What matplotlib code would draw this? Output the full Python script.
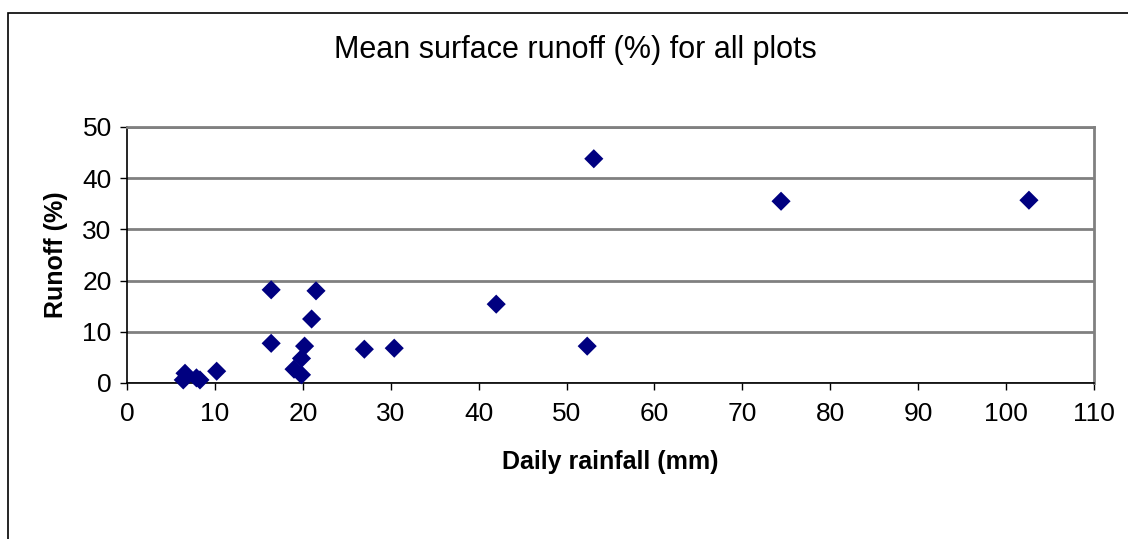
import matplotlib
matplotlib.use("Agg")
import matplotlib.pyplot as plt
from matplotlib.patches import Rectangle

# Daily rainfall (mm) and mean surface runoff (%)
rainfall = [6.6, 6.4, 7.9, 8.3, 10.2, 16.4, 16.4, 19.0, 19.85, 19.85,
            20.2, 21.0, 21.5, 27.0, 30.4, 42.0, 52.35, 53.1, 74.4, 102.6]
runoff = [1.9, 0.6, 1.0, 0.6, 2.3, 18.2, 7.75, 2.7, 1.6, 4.8,
          7.2, 12.5, 18.0, 6.6, 6.8, 15.4, 7.2, 43.8, 35.5, 35.7]

x_ticks = list(range(0, 111, 10))
y_ticks = list(range(0, 51, 10))

plt.rcParams['font.family'] = ['Liberation Sans', 'DejaVu Sans']

W, H = 1128, 539
fig = plt.figure(figsize=(W / 100, H / 100), dpi=100)

# Chart area border (cropped on the right and bottom)
fig.patches.append(Rectangle((8 / W, -0.1), 1.2, 1.1 - 13 / H,
                             transform=fig.transFigure, fill=False,
                             edgecolor='black', linewidth=1.2))

ax = fig.add_axes([127 / W, 1 - 383 / H, (1094 - 127) / W, (383 - 127) / H])

ax.scatter(rainfall, runoff, marker='D', s=95, color='#000080',
           edgecolors='none', zorder=3, clip_on=False)

ax.set_xlim(0, 110)
ax.set_ylim(0, 50)
ax.set_xticks(x_ticks)
ax.set_yticks(y_ticks)
ax.tick_params(labelsize=19, direction='out', length=5, width=1, pad=6)
ax.tick_params(axis='x', pad=9)
ax.yaxis.grid(True, color='#808080', linewidth=2)
ax.set_axisbelow(True)

for side in ['top', 'right']:
    ax.spines[side].set_color('#808080')
    ax.spines[side].set_linewidth(2)
for side in ['left', 'bottom']:
    ax.spines[side].set_color('black')
    ax.spines[side].set_linewidth(1.2)

ax.set_xlabel('Daily rainfall (mm)', fontsize=18, fontweight='bold', labelpad=17)
ax.set_ylabel('Runoff (%)', fontsize=18, fontweight='bold', labelpad=10)

fig.text(575 / W, 1 - 50 / H, 'Mean surface runoff (%) for all plots',
         fontsize=22, ha='center', va='center')

fig.savefig('out.png', dpi=100)
